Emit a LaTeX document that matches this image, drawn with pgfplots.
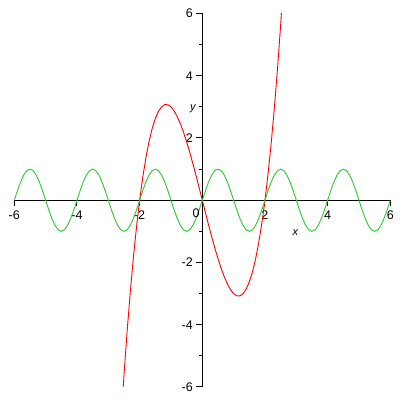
\documentclass[border=0pt]{standalone}
\usepackage{fontspec}
\setmainfont{Liberation Sans}
\usepackage{pgfplots}
\pgfplotsset{compat=1.18}
\definecolor{mgreen}{RGB}{45,200,45}
\begin{document}
\begin{tikzpicture}[x=1pt,y=1pt]
\useasboundingbox (-14.3pt,-13pt) rectangle (385.7pt,387pt);
\begin{axis}[
  at={(0,0)}, anchor=south west,
  width=376pt, height=373.5pt, scale only axis,
  xmin=-6, xmax=6, ymin=-6, ymax=6,
  axis lines=middle,
  axis line style={-, black, line width=1pt},
  xtick={-6,-4,-2,2,4,6},
  ytick={-6,-4,-2,2,4,6},
  minor ytick={-5,-3,-1,1,3,5},
  tick align=outside,
  major tick length=6pt, minor tick length=3pt,
  tick style={black, line width=1pt},
  ticklabel style={font=\fontsize{12.5}{12.5}\selectfont},
  xticklabel style={yshift=-1pt},
  /pgf/number format/assume math mode=true,
  clip=true,
]
\addplot[red, line width=0.9pt] coordinates {
(-2.6,-7.176) (-2.5,-5.625) (-2.4,-4.224) (-2.3,-2.967) (-2.2,-1.848)
(-2.1,-0.861) (-2.0,0) (-1.9,0.741) (-1.8,1.368) (-1.7,1.887)
(-1.6,2.304) (-1.5,2.625) (-1.4,2.856) (-1.3,3.003) (-1.2,3.072)
(-1.1,3.069) (-1.0,3.0) (-0.9,2.871) (-0.8,2.688) (-0.7,2.457)
(-0.6,2.184) (-0.5,1.875) (-0.4,1.536) (-0.3,1.173) (-0.2,0.792)
(-0.1,0.399) (0,0) (0.1,-0.399) (0.2,-0.792) (0.3,-1.173)
(0.4,-1.536) (0.5,-1.875) (0.6,-2.184) (0.7,-2.457) (0.8,-2.688)
(0.9,-2.871) (1.0,-3.0) (1.1,-3.069) (1.2,-3.072) (1.3,-3.003)
(1.4,-2.856) (1.5,-2.625) (1.6,-2.304) (1.7,-1.887) (1.8,-1.368)
(1.9,-0.741) (2.0,0) (2.1,0.861) (2.2,1.848) (2.3,2.967)
(2.4,4.224) (2.5,5.625) (2.6,7.176)
};
\addplot[mgreen, line width=0.9pt] coordinates {
(-6,0) (-5.9,0.309) (-5.8,0.588) (-5.7,0.809) (-5.6,0.951) (-5.5,1) (-5.4,0.951) (-5.3,0.809) (-5.2,0.588) (-5.1,0.309)
(-5,0) (-4.9,-0.309) (-4.8,-0.588) (-4.7,-0.809) (-4.6,-0.951) (-4.5,-1) (-4.4,-0.951) (-4.3,-0.809) (-4.2,-0.588) (-4.1,-0.309)
(-4,0) (-3.9,0.309) (-3.8,0.588) (-3.7,0.809) (-3.6,0.951) (-3.5,1) (-3.4,0.951) (-3.3,0.809) (-3.2,0.588) (-3.1,0.309)
(-3,0) (-2.9,-0.309) (-2.8,-0.588) (-2.7,-0.809) (-2.6,-0.951) (-2.5,-1) (-2.4,-0.951) (-2.3,-0.809) (-2.2,-0.588) (-2.1,-0.309)
(-2,0) (-1.9,0.309) (-1.8,0.588) (-1.7,0.809) (-1.6,0.951) (-1.5,1) (-1.4,0.951) (-1.3,0.809) (-1.2,0.588) (-1.1,0.309)
(-1,0) (-0.9,-0.309) (-0.8,-0.588) (-0.7,-0.809) (-0.6,-0.951) (-0.5,-1) (-0.4,-0.951) (-0.3,-0.809) (-0.2,-0.588) (-0.1,-0.309)
(0,0) (0.1,0.309) (0.2,0.588) (0.3,0.809) (0.4,0.951) (0.5,1) (0.6,0.951) (0.7,0.809) (0.8,0.588) (0.9,0.309)
(1,0) (1.1,-0.309) (1.2,-0.588) (1.3,-0.809) (1.4,-0.951) (1.5,-1) (1.6,-0.951) (1.7,-0.809) (1.8,-0.588) (1.9,-0.309)
(2,0) (2.1,0.309) (2.2,0.588) (2.3,0.809) (2.4,0.951) (2.5,1) (2.6,0.951) (2.7,0.809) (2.8,0.588) (2.9,0.309)
(3,0) (3.1,-0.309) (3.2,-0.588) (3.3,-0.809) (3.4,-0.951) (3.5,-1) (3.6,-0.951) (3.7,-0.809) (3.8,-0.588) (3.9,-0.309)
(4,0) (4.1,0.309) (4.2,0.588) (4.3,0.809) (4.4,0.951) (4.5,1) (4.6,0.951) (4.7,0.809) (4.8,0.588) (4.9,0.309)
(5,0) (5.1,-0.309) (5.2,-0.588) (5.3,-0.809) (5.4,-0.951) (5.5,-1) (5.6,-0.951) (5.7,-0.809) (5.8,-0.588) (5.9,-0.309)
(6,0)
};
\node[font=\fontsize{12.5}{12.5}\selectfont] at (axis cs:-0.2,-0.4) {0};
\node[font=\fontsize{11}{11}\itshape] at (axis cs:2.97,-1.04) {x};
\node[font=\fontsize{11}{11}\itshape] at (axis cs:-0.3,2.95) {y};
\end{axis}
\end{tikzpicture}
\end{document}
